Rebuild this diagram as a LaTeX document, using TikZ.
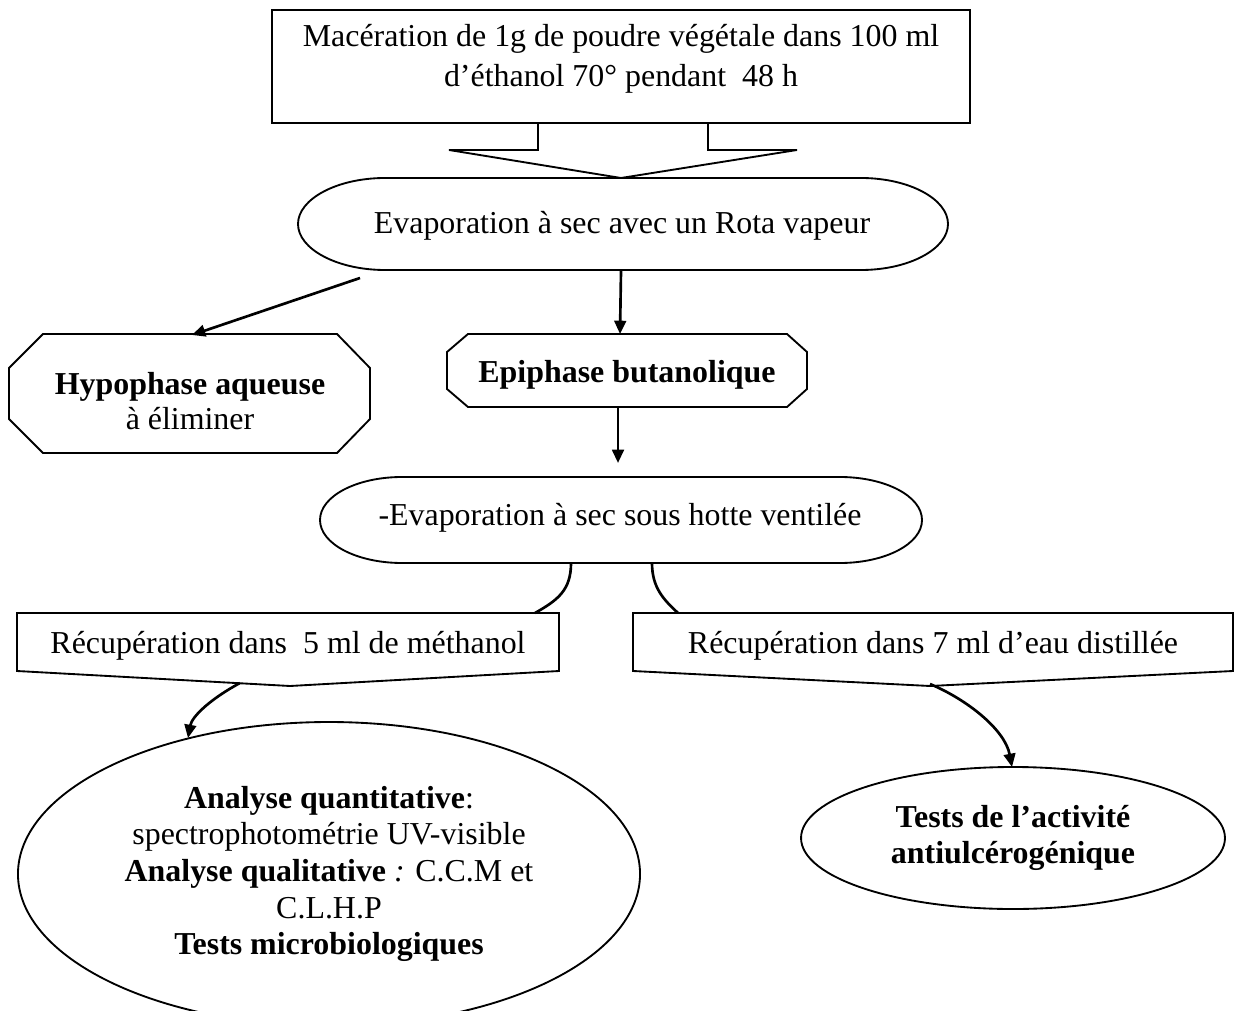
\documentclass[tikz,border=0pt]{standalone}
\usepackage{fontspec}
\setmainfont{Liberation Serif}
\usetikzlibrary{arrows.meta,shapes.geometric}
\begin{document}
\begin{tikzpicture}[x=0.376pt,y=-0.376pt,
  outline/.style={draw, line width=0.7pt},
  conn/.style={line width=1pt, -{Triangle[length=5pt,width=4.4pt]}},
  link/.style={line width=1pt},
  txt/.style={font=\fontsize{12}{13.2}\selectfont, align=center, inner sep=0pt},
  ellnode/.style={outline, ellipse, inner sep=0pt, align=center},
]
\useasboundingbox (0,0) rectangle (1239,1011);
\clip (0,0) rectangle (1239,1011);

% top box with callout arrow
\draw[outline] (272,10) rectangle (970,123);
\draw[outline, line join=miter] (538,123) -- (538,150) -- (449,150) -- (621,178) -- (797,150) -- (708,150) -- (708,123);
\node[txt, font=\fontsize{12}{15}\selectfont] (mac) at (621,59)
  {Macération de 1g de poudre végétale dans 100 ml\\d'éthanol 70° pendant\ \ 48 h};

% evaporation 1
\draw[outline] (385,178) .. controls (337,178) and (298,199) .. (298,224)
  .. controls (298,249) and (337,270) .. (385,270) -- (861,270)
  .. controls (909,270) and (948,249) .. (948,224)
  .. controls (948,199) and (909,178) .. (861,178) -- cycle;
\node[txt] (ev1) at (622,226) {Evaporation à sec avec un Rota vapeur};

% hypophase
\draw[outline] (43,334) -- (337,334) -- (370,368) -- (370,419) -- (337,453) -- (43,453) -- (9,419) -- (9,368) -- cycle;
\node[txt] (hyp) at (190,401) {\textbf{Hypophase aqueuse}\\à éliminer};

% epiphase
\draw[outline] (468,334) -- (787,334) -- (807,352) -- (807,389) -- (787,407) -- (468,407) -- (447,389) -- (447,352) -- cycle;
\node[txt] (epi) at (627,375) {\textbf{Epiphase butanolique}};

% evaporation 2
\draw[outline] (402,477) .. controls (357,477) and (320,496) .. (320,520)
  .. controls (320,544) and (357,563) .. (402,563) -- (840,563)
  .. controls (885,563) and (922,544) .. (922,520)
  .. controls (922,496) and (885,477) .. (840,477) -- cycle;
\node[txt] (ev2) at (620,518) {-Evaporation à sec sous hotte ventilée};

% recuperation boxes
\draw[outline] (17,613) -- (559,613) -- (559,671) -- (290,686) -- (17,671) -- cycle;
\node[txt] (recL) at (288,646) {Récupération dans\ \ 5 ml de méthanol};
\draw[outline] (633,613) -- (1233,613) -- (1233,671) -- (930,686) -- (633,671) -- cycle;
\node[txt] (recR) at (933,646) {Récupération dans 7 ml d'eau distillée};

% final ellipses
\node[ellnode, font=\fontsize{12}{13.8}\selectfont, minimum width=233.9pt, minimum height=114.3pt] (ana) at (329,874)
  {\textbf{Analyse quantitative}:\\spectrophotométrie UV-visible\\\textbf{Analyse qualitative} \textit{:} C.C.M et\\C.L.H.P\\\textbf{Tests microbiologiques}};
\node[ellnode, font=\fontsize{12}{13.5}\selectfont, minimum width=159.4pt, minimum height=53.4pt] (tests) at (1013,838)
  {\textbf{Tests de l'activité}\\\textbf{antiulcérogénique}};

% connector end points
\coordinate (ev1sw) at (360,278);
\coordinate (hypn) at (192,335);
\coordinate (ev1s) at (621,271);
\coordinate (epin) at (620,334);
\coordinate (epis) at (618,407);
\coordinate (ev2n) at (618,463);
\coordinate (ev2sl) at (571,563);
\coordinate (recLn) at (535,613);
\coordinate (ev2sr) at (652,563);
\coordinate (recRn) at (678,613);
\coordinate (recLs) at (240,683);
\coordinate (anan) at (188,738);
\coordinate (recRs) at (930,684);
\coordinate (testsn) at (1012,767);

\draw[conn] (ev1sw) -- (hypn);
\draw[conn] (ev1s) -- (epin);
\draw[conn] (epis) -- (ev2n);
\draw[link] (ev2sl) .. controls (571,590) and (558,600) .. (recLn);
\draw[link] (ev2sr) .. controls (652,588) and (664,600) .. (recRn);
\draw[conn] (recLs) .. controls (212,698) and (192,716) .. (anan);
\draw[conn] (recRs) .. controls (968,700) and (1005,730) .. (testsn);
\end{tikzpicture}
\end{document}
